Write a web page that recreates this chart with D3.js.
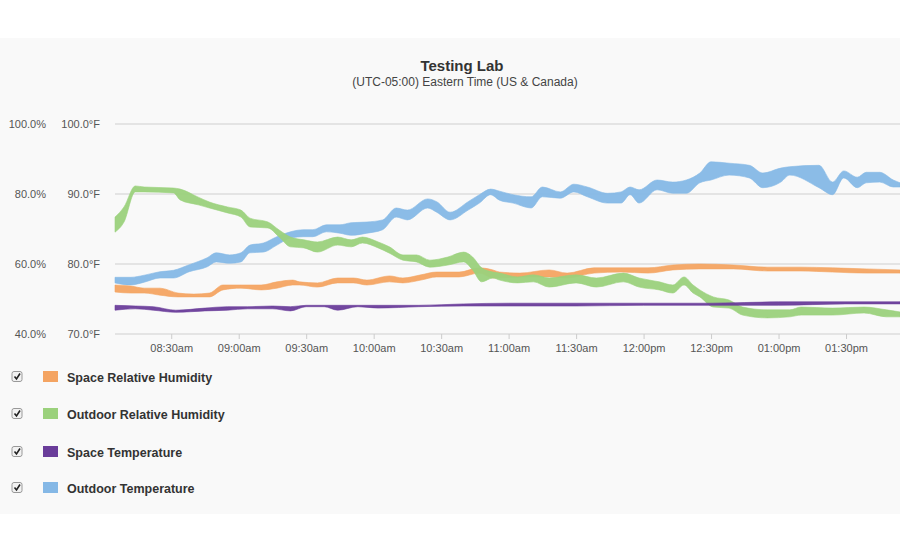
<!DOCTYPE html>
<html>
<head>
<meta charset="utf-8">
<script src="https://cdn.jsdelivr.net/npm/d3@7"></script>
<style>
  body { margin: 0; background: #fff; font-family: Arial, "Liberation Sans", sans-serif; }
  svg { display: block; }
</style>
</head>
<body>
<div id="chart"></div>
<script>
'use strict';

// Chart text
let chartTitle = 'Testing Lab';
let chartSubtitle = '(UTC-05:00) Eastern Time (US & Canada)';

// Axis ticks
let humidityTicks = [40, 60, 80, 100];
let tempTicks = [70, 80, 90, 100];
let timeStart = '08:05';
let timeEnd = '13:54';

// Series names + colours (legend order)
let seriesNames = ['Space Relative Humidity', 'Outdoor Relative Humidity', 'Space Temperature', 'Outdoor Temperature'];
let seriesColors = ['#f4a462', '#9bd17c', '#6a3d9a', '#85b8e6'];

// [time, low, high]  -- humidity in %, temperature in °F
let spaceHumidity = [
  ['08:05',52.0,54.0],['08:12',51.7,53.7],['08:18',51.7,53.1],['08:25',51.1,53.1],['08:33',50.6,51.7],
  ['08:40',50.6,51.4],['08:47',50.6,51.7],['08:53',52.6,54.0],['09:01',53.1,54.0],['09:10',52.6,54.0],
  ['09:17',53.1,54.9],['09:24',54.0,55.4],['09:27',54.0,54.9],['09:35',53.4,54.6],['09:44',54.6,56.0],
  ['09:51',54.6,56.0],['09:57',54.0,55.4],['10:07',54.9,56.6],['10:13',54.6,56.0],['10:21',55.4,56.9],
  ['10:28',56.3,57.7],['10:38',56.3,57.7],['10:47',57.4,58.9],['10:53',56.0,58.3],['10:56',56.0,57.7],
  ['11:05',56.3,57.4],['11:18',56.3,58.3],['11:26',56.0,57.4],['11:38',57.4,58.9],['11:50',57.7,58.9],
  ['12:02',57.4,58.9],['12:13',58.3,59.7],['12:25',58.6,60.0],['12:40',58.6,59.7],['12:55',58.0,59.1],
  ['13:10',58.0,59.1],['13:24',57.7,58.9],['13:39',57.4,58.6],['13:54',57.4,58.3]
];

let outdoorHumidity = [
  ['08:05',69.1,73.4],['08:09',72.0,76.3],['08:14',80.6,82.3],['08:18',80.6,82.0],['08:31',80.3,81.7],
  ['08:34',78.3,81.4],['08:42',76.9,79.1],['08:47',76.0,77.7],['08:55',74.6,76.3],['09:01',73.4,75.4],
  ['09:05',70.6,73.1],['09:13',70.3,72.0],['09:18',67.7,69.7],['09:23',64.9,67.7],['09:29',64.6,66.9],
  ['09:35',63.4,66.3],['09:44',65.4,67.7],['09:50',64.9,66.9],['09:55',66.0,67.7],['10:02',64.6,66.3],
  ['10:07',63.1,64.9],['10:13',61.1,62.6],['10:19',60.6,62.6],['10:25',59.1,61.1],['10:33',59.7,62.0],
  ['10:40',60.6,63.4],['10:44',58.3,62.0],['10:48',54.9,58.9],['10:53',56.0,57.7],['10:56',55.4,57.4],
  ['11:04',54.6,56.3],['11:11',54.9,56.9],['11:18',53.4,56.0],['11:30',54.6,56.9],['11:39',53.4,56.0],
  ['11:51',54.9,57.4],['11:58',53.4,56.0],['12:07',52.6,54.9],['12:13',51.7,54.0],['12:18',54.0,56.3],
  ['12:22',51.7,54.0],['12:25',50.6,52.6],['12:31',47.7,50.6],['12:38',47.4,49.7],['12:44',45.4,47.7],
  ['12:55',44.6,46.9],['13:05',44.9,46.9],['13:10',45.4,47.7],['13:24',45.4,47.4],['13:38',46.0,47.7],
  ['13:48',44.9,46.9],['13:54',44.9,46.3]
];

let spaceTemp = [
  ['08:05',73.4,74.1],['08:14',73.6,74.0],['08:22',73.4,73.9],['08:32',73.1,73.4],['08:45',73.3,73.7],
  ['08:55',73.4,73.9],['09:04',73.6,73.9],['09:15',73.6,74.0],['09:23',73.3,73.9],['09:30',73.9,74.1],
  ['09:38',73.9,74.1],['09:44',73.4,74.1],['09:53',73.9,74.1],['10:02',73.7,74.1],['10:20',73.9,74.1],
  ['10:40',74.0,74.3],['11:00',74.0,74.4],['11:30',74.0,74.4],['12:00',74.1,74.4],['12:30',74.1,74.4],
  ['13:00',74.1,74.6],['13:30',74.3,74.6],['13:54',74.3,74.6]
];

let outdoorTemp = [
  ['08:05',77.3,78.1],['08:12',77.0,78.1],['08:18',77.4,78.4],['08:25',78.0,78.9],['08:31',78.0,79.1],
  ['08:38',78.9,79.9],['08:46',79.6,80.9],['08:50',80.3,81.6],['08:56',80.1,81.3],['09:01',80.3,81.6],
  ['09:05',81.6,82.7],['09:11',81.7,83.0],['09:17',82.7,83.9],['09:23',83.7,84.6],['09:29',83.9,84.9],
  ['09:33',83.9,84.9],['09:39',84.6,85.6],['09:45',84.4,85.6],['09:50',84.1,85.9],['09:57',84.4,86.0],
  ['10:04',84.9,86.3],['10:10',86.7,88.0],['10:15',86.3,87.7],['10:24',88.0,89.3],['10:28',87.4,88.9],
  ['10:34',86.3,87.4],['10:42',87.7,88.9],['10:47',88.7,89.9],['10:52',89.9,90.7],['10:56',89.1,90.4],
  ['11:02',88.7,89.9],['11:10',88.0,89.6],['11:15',89.6,91.0],['11:23',89.4,90.3],['11:29',90.3,91.4],
  ['11:35',89.6,91.0],['11:44',88.7,90.1],['11:50',88.7,90.3],['11:54',89.9,91.0],['11:58',88.7,90.6],
  ['12:06',90.6,92.0],['12:13',90.1,91.7],['12:19',90.1,92.0],['12:25',91.6,93.0],['12:30',92.0,94.6],
  ['12:38',92.7,94.4],['12:47',92.3,94.1],['12:53',90.9,93.0],['13:01',91.7,93.7],['13:05',92.7,93.9],
  ['13:18',90.9,94.1],['13:24',89.9,91.7],['13:29',92.3,93.3],['13:35',90.9,92.4],['13:39',91.6,93.1],
  ['13:45',91.7,93.1],['13:51',91.0,92.0],['13:54',91.0,91.6]
];

// Layout
let format = {
  width: 900,
  height: 550,
  panelTop: 38,
  panelBottom: 514,
  plotLeft: 115,
  plotRight: 900,
  plotTop: 124,
  plotBottom: 334,
};

let parseTime = d3.timeParse('%H:%M');
let formatTick = (d) => d3.timeFormat('%I:%M%p')(d).toLowerCase();

function toRows(data){
  return data.map((d) => ({ t: parseTime(d[0]), lo: d[1], hi: d[2] }));
}

function setup(){
  let svg = d3.select('#chart').append('svg')
    .attr('width', format.width)
    .attr('height', format.height);

  // grey panel
  svg.append('rect')
    .attr('x', 0).attr('y', format.panelTop)
    .attr('width', format.width)
    .attr('height', format.panelBottom - format.panelTop)
    .attr('fill', '#f9f9f9');

  // Title
  svg.append('text')
    .attr('x', 462).attr('y', 71)
    .attr('text-anchor', 'middle')
    .style('font-size', '15px').style('font-weight', 'bold').style('fill', '#333')
    .text(chartTitle);
  svg.append('text')
    .attr('x', 465).attr('y', 86)
    .attr('text-anchor', 'middle')
    .style('font-size', '12px').style('fill', '#444')
    .text(chartSubtitle);

  // Scales
  let xScale = d3.scaleTime()
    .domain([parseTime(timeStart), parseTime(timeEnd)])
    .range([format.plotLeft, format.plotRight]);
  let yHumidity = d3.scaleLinear()
    .domain([40, 100])
    .range([format.plotBottom, format.plotTop]);
  let yTemp = d3.scaleLinear()
    .domain([70, 100])
    .range([format.plotBottom, format.plotTop]);

  // Gridlines
  svg.append('g').selectAll('line')
    .data(humidityTicks)
    .enter().append('line')
    .attr('x1', format.plotLeft).attr('x2', format.plotRight)
    .attr('y1', (d) => yHumidity(d)).attr('y2', (d) => yHumidity(d))
    .attr('stroke', '#dcdcdc').attr('stroke-width', 1.5);

  // Left axes (two label columns)
  let axisHum = d3.axisLeft(yHumidity)
    .tickValues(humidityTicks)
    .tickSize(0).tickPadding(0)
    .tickFormat((d) => d.toFixed(1) + '%');
  let gHum = svg.append('g').attr('transform', 'translate(46,0)').call(axisHum);

  let axisTemp = d3.axisLeft(yTemp)
    .tickValues(tempTicks)
    .tickSize(0).tickPadding(0)
    .tickFormat((d) => d.toFixed(1) + '°F');
  let gTemp = svg.append('g').attr('transform', 'translate(100,0)').call(axisTemp);

  [gHum, gTemp].forEach((g) => {
    g.select('.domain').remove();
    g.selectAll('text').style('font-size', '11px').style('fill', '#555')
      .style('font-family', 'Arial, "Liberation Sans", sans-serif');
  });

  // Bottom axis
  let xAxis = d3.axisBottom(xScale)
    .ticks(d3.timeMinute.every(30))
    .tickSize(5).tickPadding(5)
    .tickFormat(formatTick);
  let gx = svg.append('g')
    .attr('transform', `translate(0,${format.plotBottom})`)
    .call(xAxis);
  gx.select('.domain').remove();
  gx.selectAll('line').attr('stroke', '#ccc');
  gx.selectAll('text').style('font-size', '11px').style('fill', '#555')
    .style('font-family', 'Arial, "Liberation Sans", sans-serif');

  // Bands
  let series = [
    { rows: toRows(outdoorTemp), y: yTemp, color: seriesColors[3] },
    { rows: toRows(spaceHumidity), y: yHumidity, color: seriesColors[0] },
    { rows: toRows(outdoorHumidity), y: yHumidity, color: seriesColors[1] },
    { rows: toRows(spaceTemp), y: yTemp, color: seriesColors[2] },
  ];

  let plot = svg.append('g');
  series.forEach((s) => {
    let area = d3.area()
      .curve(d3.curveMonotoneX)
      .x((d) => xScale(d.t))
      .y0((d) => s.y(d.lo))
      .y1((d) => s.y(d.hi));
    plot.append('path')
      .datum(s.rows)
      .attr('d', area)
      .attr('fill', s.color)
      .attr('stroke', s.color)
      .attr('stroke-width', 0.6)
      .attr('fill-opacity', 0.95);
  });

  // Legend
  let legend = svg.append('g').selectAll('g')
    .data(seriesNames)
    .enter().append('g')
    .attr('transform', (d, i) => `translate(0,${[377, 414, 452, 488][i]})`);

  legend.append('rect')
    .attr('x', 12).attr('y', -5.5)
    .attr('width', 10).attr('height', 10)
    .attr('rx', 2)
    .attr('fill', '#f2f2f2').attr('stroke', '#999');
  legend.append('path')
    .attr('d', 'M14.5,-0.5 L16.5,2 L20,-3.5')
    .attr('fill', 'none').attr('stroke', '#222').attr('stroke-width', 1.6);

  legend.append('rect')
    .attr('x', 43).attr('y', -6)
    .attr('width', 15).attr('height', 11)
    .attr('fill', (d, i) => seriesColors[i]);

  legend.append('text')
    .attr('x', 67).attr('y', 5)
    .style('font-size', '12.5px').style('font-weight', 'bold').style('fill', '#333')
    .text((d) => d);
}

window.onload = setup;
</script>
</body>
</html>
